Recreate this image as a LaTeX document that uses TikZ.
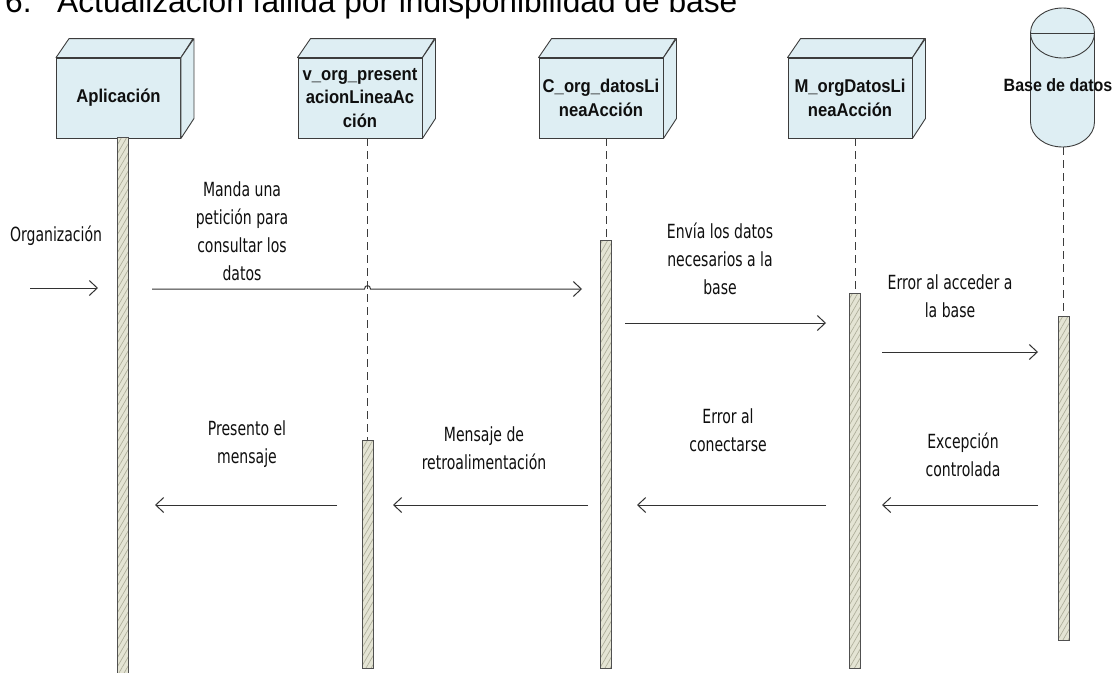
\documentclass[tikz,border=0pt]{standalone}
\usepackage{fontspec}
\setmainfont{Liberation Sans}
\newfontfamily\msgfont{DejaVu Sans}[FakeStretch=0.72]
\newfontfamily\boxfont{Liberation Sans Bold}[FakeStretch=0.9]
\usetikzlibrary{arrows.meta,patterns.meta}
\definecolor{boxfill}{RGB}{222,238,243}
\definecolor{edge}{RGB}{60,60,60}
\definecolor{barfill}{RGB}{228,228,212}
\definecolor{baredge}{RGB}{80,80,80}
\definecolor{hatch}{RGB}{175,175,155}
\definecolor{arrowc}{RGB}{50,50,50}
\definecolor{txt}{RGB}{15,15,15}
\begin{document}
\begin{tikzpicture}[x=1pt,y=-1pt,
  boxfront/.style={draw=edge, fill=boxfill, line width=0.9pt, minimum width=124pt, minimum height=80pt, inner sep=0pt, align=center, font=\boxfont\fontsize{18.5}{23.5}\selectfont, text=txt},
  boxface/.style={draw=edge, fill=boxfill, line width=0.9pt, line join=round},
  actbar/.style={draw=baredge, line width=1pt, minimum width=11pt, inner sep=0pt, anchor=north, preaction={fill=barfill}, pattern={Lines[angle=60,distance=4.5pt,line width=0.7pt]}, pattern color=hatch},
  lifeline/.style={draw=edge, line width=0.8pt, dash pattern=on 8pt off 5pt},
  msg/.style={draw=arrowc, line width=1pt, -{Straight Barb[length=8pt,width=15pt,line width=1pt]}},
  lbl/.style={align=center, inner sep=0pt, font=\msgfont\fontsize{19.5}{28}\selectfont, text=txt}
]
\useasboundingbox (0,0) rectangle (1116,672);
\clip (0,0) rectangle (1116,672);
\fill[white] (0,0) rectangle (1116,672);

% title
\node[anchor=base west, inner sep=0pt, font=\fontsize{31.7}{36}\selectfont] (tnum) at (5,12) {6.};
\node[anchor=base west, inner sep=0pt, font=\fontsize{31.7}{36}\selectfont] (ttl) at (57,12) {Actualización fallida por indisponibilidad de base};

% boxes
\node[boxfront] (A) at (118.5,98) {Aplicación};
\node[boxfront] (V) at (360,98) {v\_org\_present\\acionLineaAc\\ción};
\node[boxfront] (C) at (601,98) {C\_org\_datosLi\\neaAcción};
\node[boxfront] (M) at (850,98) {M\_orgDatosLi\\neaAcción};
\foreach \b in {A,V,C,M}{
  \draw[boxface] (\b.north west) -- ++(13,-19) -- ++(124,0) -- (\b.north east) -- cycle;
  \draw[boxface] (\b.north east) -- ++(13,-19) -- ++(0,80) -- (\b.south east) -- cycle;
}

% database cylinder
\draw[boxface] (1030.5,33) .. controls (1030.5,19) and (1045,8) .. (1062.5,8)
  .. controls (1080,8) and (1094.5,19) .. (1094.5,33) -- (1094.5,122)
  .. controls (1094.5,136) and (1080,147) .. (1062.5,147)
  .. controls (1045,147) and (1030.5,136) .. (1030.5,122) -- cycle;
\draw[draw=edge, line width=0.9pt] (1030.5,33) .. controls (1030.5,47) and (1045,58) .. (1062.5,58)
  .. controls (1080,58) and (1094.5,47) .. (1094.5,33);
\draw[draw=edge, line width=0.9pt] (1030.5,33) -- (1094.5,33);
\node[inner sep=0pt, font=\boxfont\fontsize{17.8}{23}\selectfont, text=txt] (D) at (1058,85) {Base de datos};
\coordinate (Dbot) at (1063.5,147);

% activation bars
\node[actbar, minimum height=545pt] (Abar) at (122.5,137.5) {};
\node[actbar, minimum height=228pt] (Vbar) at (367.5,440) {};
\node[actbar, minimum height=428pt] (Cbar) at (606,240) {};
\node[actbar, minimum height=375pt] (Mbar) at (855,293) {};
\node[actbar, minimum height=324pt] (Dbar) at (1063.5,316) {};

% lifelines
\draw[lifeline] (V.south -| Vbar.north) -- (Vbar.north);
\draw[lifeline] (C.south -| Cbar.north) -- (Cbar.north);
\draw[lifeline] (M.south -| Mbar.north) -- (Mbar.north);
\draw[lifeline] (Dbot) -- (Dbar.north);

% message end points
\coordinate (o1) at (30,288);   \coordinate (o2) at (98,288);
\coordinate (m1s) at (152,289); \coordinate (m1e) at (582,289);
\coordinate (h1) at (364.5,289); \coordinate (h2) at (370.5,289);
\coordinate (m2s) at (625,323); \coordinate (m2e) at (826,323);
\coordinate (m3s) at (882,352); \coordinate (m3e) at (1038,352);
\coordinate (m4s) at (1038,505); \coordinate (m4e) at (882,505);
\coordinate (m5s) at (826,505); \coordinate (m5e) at (637,505);
\coordinate (m6s) at (588,505); \coordinate (m6e) at (393,505);
\coordinate (m7s) at (337,505); \coordinate (m7e) at (155,505);

% messages
\draw[msg] (o1) -- (o2);
\draw[msg] (m1s) -- (h1) .. controls (364.5,284.5) and (370.5,284.5) .. (h2) -- (m1e);
\draw[msg] (m2s) -- (m2e);
\draw[msg] (m3s) -- (m3e);
\draw[msg] (m4s) -- (m4e);
\draw[msg] (m5s) -- (m5e);
\draw[msg] (m6s) -- (m6e);
\draw[msg] (m7s) -- (m7e);

% labels
\node[lbl] (l0) at (56,236) {Organización};
\node[lbl] (l1) at (242,231) {Manda una\\petición para\\consultar los\\datos};
\node[lbl] (l2) at (720,259) {Envía los datos\\necesarios a la\\base};
\node[lbl] (l3) at (950,296) {Error al acceder a\\la base};
\node[lbl] (l4) at (963,455) {Excepción\\controlada};
\node[lbl] (l5) at (728,430) {Error al\\conectarse};
\node[lbl] (l6) at (484,448) {Mensaje de\\retroalimentación};
\node[lbl] (l7) at (247,444) {Presento el\\mensaje};
\end{tikzpicture}
\end{document}
